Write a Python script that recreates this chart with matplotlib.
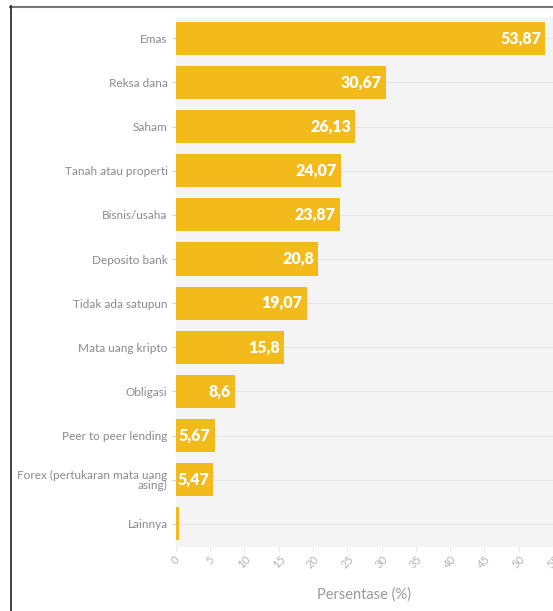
import matplotlib.pyplot as plt
from matplotlib.lines import Line2D

plt.rcParams['font.family'] = ['Lato', 'DejaVu Sans']

categories = ['Emas', 'Reksa dana', 'Saham', 'Tanah atau properti', 'Bisnis/usaha',
              'Deposito bank', 'Tidak ada satupun', 'Mata uang kripto', 'Obligasi',
              'Peer to peer lending', 'Forex (pertukaran mata uang\nasing)', 'Lainnya']
values = [53.87, 30.67, 26.13, 24.07, 23.87, 20.8, 19.07, 15.8, 8.6, 5.67, 5.47, 0.4]
labels = ['53,87', '30,67', '26,13', '24,07', '23,87', '20,8', '19,07', '15,8', '8,6',
          '5,67', '5,47', '']
xticks = list(range(0, 60, 5))

fig = plt.figure(figsize=(5.53, 6.11), dpi=100)
ax = fig.add_axes([0.318, 0.105, 0.682, 0.867])
ax.set_facecolor('#f4f4f4')

y = list(range(len(categories)))
ax.barh(y, values, height=0.75, color='#f2ba1a', zorder=2)
for yi, v, lab in zip(y, values, labels):
    if lab:
        ax.text(v - 0.6, yi, lab, ha='right', va='center', color='white',
                fontsize=11.5, fontweight='heavy', zorder=3)

ax.set_yticks(y)
ax.set_yticklabels(categories, fontsize=8.5, color='#8a8a8a', linespacing=0.9)
ax.set_ylim(len(categories) - 0.48, -0.48)
ax.set_xlim(0, 55)
ax.set_xticks(xticks)
ax.set_xticklabels([str(t) for t in xticks], rotation=45, fontsize=8, color='#b4b4b4')
ax.tick_params(axis='y', length=3, color='#d0d0d0', pad=3)
ax.tick_params(axis='x', length=3, color='#e4e4e4', pad=2)
ax.grid(axis='y', color='#e8e8e8', linewidth=0.8, zorder=0)
ax.set_axisbelow(True)
for s in ax.spines.values():
    s.set_visible(False)
ax.set_xlabel('Persentase (%)', fontsize=10.5, color='#9a9a9a', labelpad=12)

# screenshot frame
fig.add_artist(Line2D([10 / 553, 1], [1 - 6.5 / 611, 1 - 6.5 / 611], color='#777777', lw=1.5))
fig.add_artist(Line2D([10.5 / 553, 10.5 / 553], [0, 1 - 6 / 611], color='#222222', lw=1.2))

fig.savefig('out.png', dpi=100)
